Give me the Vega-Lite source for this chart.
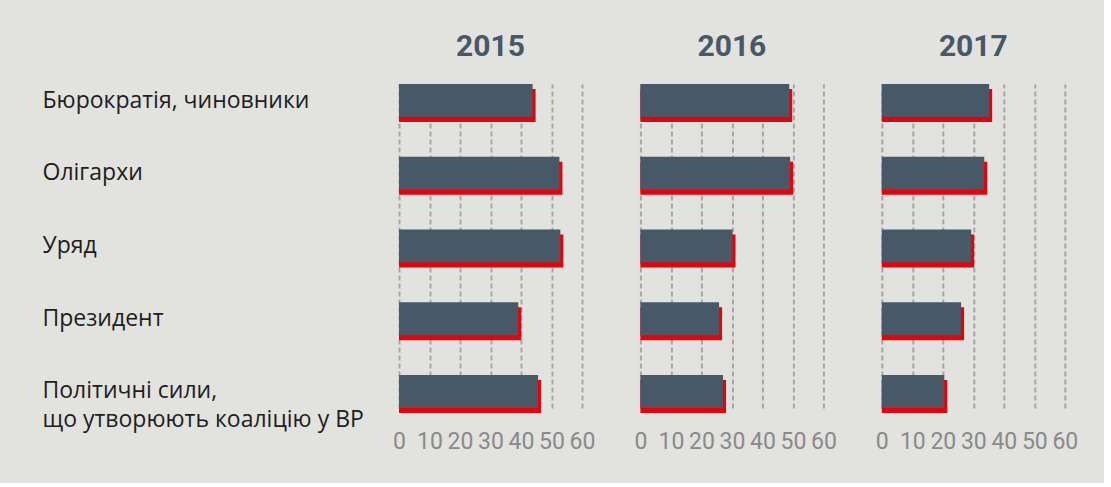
{
  "$schema": "https://vega.github.io/schema/vega-lite/v6.json",
  "background": "#e2e2de",
  "padding": {"left": 42, "top": 32, "right": 26, "bottom": 30},
  "data": {"values": [
    {"year": "2015", "category": "Бюрократія, чиновники", "value": 43.8},
    {"year": "2015", "category": "Олігархи", "value": 52.6},
    {"year": "2015", "category": "Уряд", "value": 52.9},
    {"year": "2015", "category": "Президент", "value": 39.1},
    {"year": "2015", "category": "Політичні сили, що утворюють коаліцію у ВР", "value": 45.6},
    {"year": "2016", "category": "Бюрократія, чиновники", "value": 48.8},
    {"year": "2016", "category": "Олігархи", "value": 49.1},
    {"year": "2016", "category": "Уряд", "value": 30.2},
    {"year": "2016", "category": "Президент", "value": 25.8},
    {"year": "2016", "category": "Політичні сили, що утворюють коаліцію у ВР", "value": 27.1},
    {"year": "2017", "category": "Бюрократія, чиновники", "value": 35.2},
    {"year": "2017", "category": "Олігархи", "value": 33.6},
    {"year": "2017", "category": "Уряд", "value": 29.3},
    {"year": "2017", "category": "Президент", "value": 26.0},
    {"year": "2017", "category": "Політичні сили, що утворюють коаліцію у ВР", "value": 20.5}
  ]},
  "facet": {
    "column": {
      "field": "year", "type": "nominal", "title": null,
      "header": {
        "labelFont": "Roboto", "labelFontSize": 30, "labelFontWeight": "bold",
        "labelColor": "#475866", "labelBaseline": "alphabetic", "labelPadding": -2
      }
    }
  },
  "spacing": 58.4,
  "spec": {
    "width": 183,
    "height": 324,
    "encoding": {
      "y": {
        "field": "category", "type": "nominal",
        "sort": ["Бюрократія, чиновники", "Олігархи", "Уряд", "Президент", "Політичні сили, що утворюють коаліцію у ВР"],
        "scale": {"paddingInner": 0.546, "paddingOuter": 0},
        "axis": {
          "title": null, "domain": false, "ticks": false, "labelAlign": "left",
          "labelPadding": 357, "labelLimit": 400, "labelFont": "Open Sans", "labelFontSize": 23,
          "labelColor": "#1e1e1e", "labelLineHeight": 29,
          "labelExpr": "datum.label == 'Політичні сили, що утворюють коаліцію у ВР' ? ['Політичні сили,', 'що утворюють коаліцію у ВР'] : datum.label"
        }
      },
      "x": {
        "field": "value", "type": "quantitative",
        "scale": {"domain": [0, 60], "nice": false},
        "axis": {
          "title": null, "domain": false, "ticks": false, "values": [0, 10, 20, 30, 40, 50, 60],
          "labelFont": "Roboto", "labelFontSize": 23, "labelColor": "#8a8a8a", "labelPadding": 17,
          "labelOverlap": false, "labelFlush": false,
          "grid": true, "gridColor": "#a6a6a6", "gridWidth": 2, "gridDash": [5, 3]
        }
      },
      "x2": {"datum": 0}
    },
    "layer": [
      {"mark": {"type": "bar", "color": "#e8000b", "yOffset": 5, "xOffset": 3}},
      {"mark": {"type": "bar", "color": "#475866"}}
    ]
  },
  "config": {"view": {"stroke": null}}
}
